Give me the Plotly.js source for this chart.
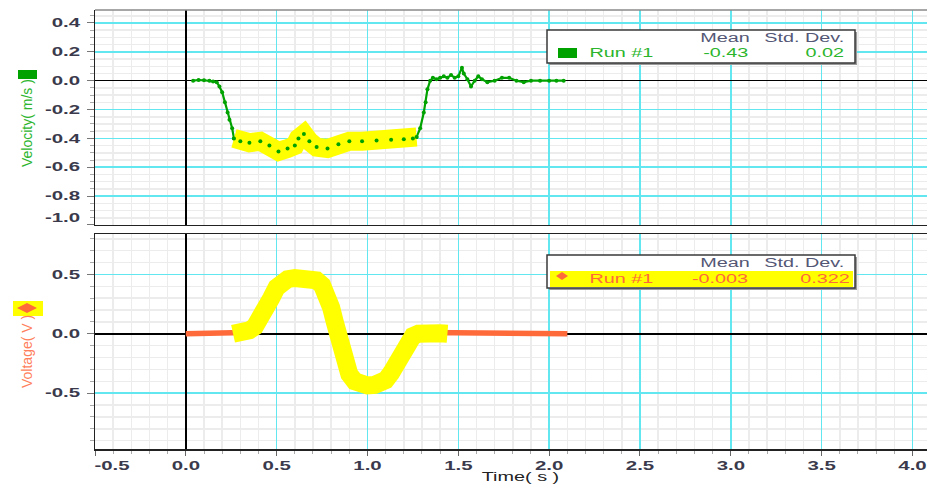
<!DOCTYPE html>
<html><head><meta charset="utf-8">
<script src="https://cdn.plot.ly/plotly-3.0.1.min.js"></script>
<style>html,body{margin:0;padding:0;background:#fff}#chart{width:927px;height:487px}</style>
</head><body><div id="chart"></div>
<script>
// ---------- data ----------
const velTime = [0.04,0.07,0.10,0.13,0.15,0.17,0.185,0.20,0.215,0.23,0.24,0.255,0.265,0.30,0.35,0.41,0.46,0.51,0.56,0.60,0.62,0.65,0.68,0.72,0.78,0.84,0.90,0.97,1.05,1.13,1.20,1.25,1.27,1.29,1.31,1.32,1.33,1.345,1.36,1.38,1.40,1.42,1.44,1.46,1.48,1.50,1.52,1.53,1.55,1.57,1.59,1.61,1.63,1.66,1.70,1.74,1.78,1.82,1.86,1.90,1.95,2.00,2.04,2.08];
const velValues = [0.00,0.005,0.003,0.00,-0.005,-0.01,-0.04,-0.08,-0.15,-0.22,-0.27,-0.33,-0.40,-0.42,-0.43,-0.42,-0.45,-0.49,-0.47,-0.45,-0.40,-0.37,-0.42,-0.46,-0.47,-0.44,-0.42,-0.42,-0.415,-0.41,-0.405,-0.40,-0.39,-0.33,-0.22,-0.15,-0.06,0.00,0.02,0.01,0.02,0.03,0.02,0.04,0.02,0.03,0.09,0.05,0.01,-0.04,0.00,0.03,0.01,-0.01,0.00,0.02,0.02,0.00,-0.01,0.00,0.00,0.00,0.00,0.00];
const voltTime = [0.00,0.05,0.10,0.15,0.20,0.24,0.26,0.29,0.32,0.35,0.38,0.41,0.44,0.47,0.50,0.53,0.56,0.60,0.64,0.68,0.72,0.75,0.78,0.80,0.82,0.84,0.86,0.88,0.90,0.93,0.96,1.00,1.04,1.07,1.10,1.13,1.16,1.19,1.22,1.25,1.28,1.32,1.36,1.40,1.44,1.50,1.55,1.60,1.65,1.70,1.75,1.80,1.85,1.90,1.95,2.00,2.05,2.10];
const voltValues = [0,0,0,0,0,0,0.00,0.005,0.01,0.03,0.06,0.12,0.21,0.30,0.39,0.44,0.46,0.47,0.47,0.465,0.45,0.41,0.32,0.22,0.10,-0.03,-0.15,-0.26,-0.34,-0.40,-0.43,-0.435,-0.43,-0.42,-0.39,-0.33,-0.24,-0.14,-0.06,-0.02,0.00,0.01,0.01,0.005,0.0,0,0,0,0,0,0,0,0,0,0,0,0,0];
const velHighlight = [0.26, 1.28];
const voltHighlight = [0.26, 1.44];

const timeTickVals = [-0.5,0,0.5,1,1.5,2,2.5,3,3.5,4];
const timeTickText = ['-0.5','0.0','0.5','1.0','1.5','2.0','2.5','3.0','3.5','4.0'];
const velTickVals = [0.4,0.2,0,-0.2,-0.4,-0.6,-0.8,-1.0];
const velTickText = ['0.4','0.2','0.0','-0.2','-0.4','-0.6','-0.8','-1.0'];
const voltTickVals = [0.5,0,-0.5];
const voltTickText = ['0.5','0.0','-0.5'];

const statHeaders = ['Mean','Std. Dev.'];
const runName = 'Run #1';
const velStats = ['-0.43','0.02'];
const voltStats = ['-0.003','0.322'];

// ---------- styling ----------
const GREEN='#00a200', GREEN_TXT='#2cb52c', ORANGE='#ff6a3a', YELLOW='#ffff00', CYAN='#62e6ef', MINOR='#ececec';
const PX = p => (p-95)/832;
const PY = p => (449-p)/439;

function sub(t, v, r){ const x=[],y=[]; t.forEach((tt,i)=>{ if(tt>=r[0]&&tt<=r[1]){x.push(tt);y.push(v[i]);} }); return {x,y}; }
const vh = sub(velTime, velValues, velHighlight);
const uh = sub(voltTime, voltValues, voltHighlight);

const traces = [
  {x:velTime, y:velValues, xaxis:'x2', yaxis:'y2', mode:'lines+markers', line:{color:GREEN,width:2.2}, marker:{color:GREEN,size:4}},
  {x:vh.x, y:vh.y, xaxis:'x2', yaxis:'y2', mode:'lines', line:{color:YELLOW,width:19}, hoverinfo:'skip'},
  {x:vh.x, y:vh.y, xaxis:'x2', yaxis:'y2', mode:'markers', marker:{color:GREEN,size:4}, hoverinfo:'skip'},
  {x:voltTime, y:voltValues, xaxis:'x', yaxis:'y', mode:'lines', line:{color:ORANGE,width:5.5}},
  {x:uh.x, y:uh.y, xaxis:'x', yaxis:'y', mode:'lines', line:{color:YELLOW,width:18}, hoverinfo:'skip'}
];

const tickfont = {family:'Liberation Sans, Arial, sans-serif', size:12, color:'#3a3a4c', weight:'bold'};
const baseX = {range:[-0.5,4.08], tickvals:timeTickVals, ticktext:timeTickText, showgrid:true, gridcolor:CYAN, gridwidth:1.6,
  zeroline:true, zerolinecolor:'#000', zerolinewidth:1.5, showline:true, linecolor:'#222', linewidth:1.5,
  tickfont:tickfont, tickcolor:'#666',
  minor:{dtick:0.1, tick0:0, showgrid:true, gridcolor:MINOR, gridwidth:1.5}};
const baseY = {showgrid:true, gridcolor:CYAN, gridwidth:1.6, zeroline:true, zerolinecolor:'#000', zerolinewidth:1.5,
  showline:true, linecolor:'#222', linewidth:1.5, ticks:'outside', ticklen:7, tickcolor:'#777', tickfont:tickfont, ticklabelstandoff:4};

const layout = {
  width:927, height:487, margin:{l:95,r:0,t:10,b:38}, paper_bgcolor:'#fff', plot_bgcolor:'#fff', showlegend:false,
  xaxis: Object.assign({}, baseX, {anchor:'y', domain:[0,1], mirror:true, ticks:'outside', ticklen:5,
     minor:Object.assign({}, baseX.minor, {ticks:'outside', ticklen:3, tickcolor:'#aaa'})}),
  xaxis2: Object.assign({}, baseX, {anchor:'y2', domain:[0,1], matches:'x', showticklabels:false, ticks:''}),
  yaxis: Object.assign({}, baseY, {domain:[0,0.4897], range:[-0.97,0.84], tickvals:voltTickVals, ticktext:voltTickText,
     minor:{dtick:0.1, tick0:0, showgrid:true, gridcolor:MINOR, gridwidth:1.5, ticks:'outside', ticklen:4, tickcolor:'#aaa'}}),
  yaxis2: Object.assign({}, baseY, {domain:[0.5103,1], range:[-1.0,0.49], tickvals:velTickVals, ticktext:velTickText,
     minor:{dtick:0.05, tick0:0, showgrid:true, gridcolor:MINOR, gridwidth:1.5, ticks:'outside', ticklen:4, tickcolor:'#aaa'}}),
  shapes: [],
  annotations: []
};

const S = layout.shapes, A = layout.annotations;
function rect(x0,y0,x1,y1,fill,line){ S.push({type:'rect', xref:'paper', yref:'paper', x0:PX(x0), x1:PX(x1), y0:PY(y1), y1:PY(y0), fillcolor:fill, line: line||{width:0}}); }
function diamond(cx,cy,hw,hh,fill){ S.push({type:'path', xref:'paper', yref:'paper', fillcolor:fill, line:{width:0},
  path:`M${PX(cx-hw)},${PY(cy)} L${PX(cx)},${PY(cy-hh)} L${PX(cx+hw)},${PY(cy)} L${PX(cx)},${PY(cy+hh)} Z`}); }
const stretchIdx = new Set();
function txt(s,cx,cy,color,opts){ opts=opts||{}; if(opts.stretch) stretchIdx.add(A.length);
  A.push({text:s, xref:'paper', yref:'paper', x:PX(cx), y:PY(cy), xanchor:'center', yanchor:'middle', showarrow:false,
    textangle:opts.angle||0, font:{family:'Liberation Sans, Arial, sans-serif', size:opts.size||12, color:color, weight:opts.weight||'normal'}}); }

// top border of upper plot
S.push({type:'line', xref:'paper', yref:'paper', x0:0, x1:1, y0:1, y1:1, line:{color:'#8a8a8a', width:1.5}});

// y-axis titles with icons
rect(18,70,37,79,GREEN);
txt('Velocity( m/s )',27,123,GREEN_TXT,{angle:-90, size:14});
rect(13,301,43,316,YELLOW);
diamond(27,308,10,5,ORANGE);
txt('Voltage( V )',27,352,'#ff7f5c',{angle:-90, size:14});

// x-axis title
txt('Time( s )',520,477,'#222',{stretch:true, size:12});

// statistics box 1 (velocity)
rect(549,32,857,65,'#9a9a9a');
rect(547,30,855,63,'#fff',{color:'#3a3a3a',width:1.5});
rect(558,48,577,58,GREEN);
const HDR='#545775';
txt(statHeaders[0],725,38,HDR,{stretch:true});
txt(statHeaders[1],804,38,HDR,{stretch:true});
txt(runName,621,53,GREEN_TXT,{stretch:true});
txt(velStats[0],726,53,GREEN_TXT,{stretch:true});
txt(velStats[1],825,53,GREEN_TXT,{stretch:true});

// statistics box 2 (voltage)
rect(549,257,857,290,'#9a9a9a');
rect(547,255,855,288,'#fff',{color:'#3a3a3a',width:1.5});
rect(550,271,853,287,YELLOW);
diamond(562,276,6,4,ORANGE);
txt(statHeaders[0],725,263,HDR,{stretch:true});
txt(statHeaders[1],804,263,HDR,{stretch:true});
txt(runName,621,279,ORANGE,{stretch:true});
txt(voltStats[0],720,279,ORANGE,{stretch:true});
txt(voltStats[1],825,279,ORANGE,{stretch:true});

const gd = document.getElementById('chart');
Plotly.newPlot(gd, traces, layout, {staticPlot:true, displayModeBar:false}).then(()=>{
  function stretch(el,f){ const L=el.getComputedTextLength(); if(L>0){ el.setAttribute('textLength',(L*f).toFixed(1)); el.setAttribute('lengthAdjust','spacingAndGlyphs'); } }
  function nudge(el,dx,dy){ el.setAttribute('transform', (el.getAttribute('transform')||'') + ` translate(${dx},${dy})`); }
  gd.querySelectorAll('.xtick text').forEach(e=>{
    stretch(e,1.7);
    if (e.textContent === timeTickText[0]) nudge(e,17,0);   // edge label kept inside the frame
  });
  gd.querySelectorAll('.ytick text').forEach(e=>stretch(e,1.7));
  gd.querySelectorAll('.y2tick text').forEach(e=>{
    stretch(e,1.7);
    if (e.textContent === velTickText[velTickText.length-1]) nudge(e,0,-7);
  });
  gd.querySelectorAll('.annotation').forEach(g=>{ const i=+g.getAttribute('data-index'); if(stretchIdx.has(i)) g.querySelectorAll('text').forEach(t=>stretch(t,1.65)); });
});
</script>
</body></html>
